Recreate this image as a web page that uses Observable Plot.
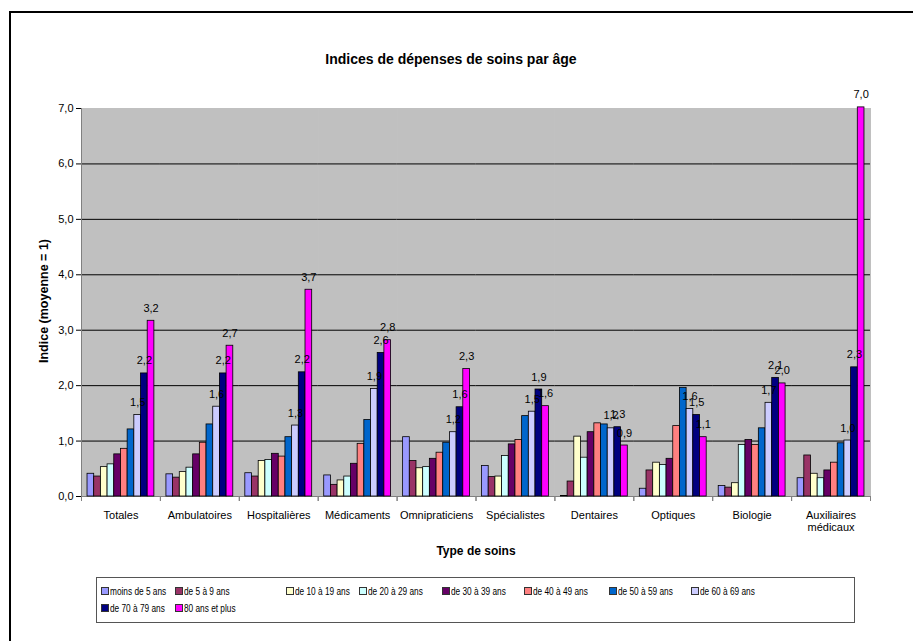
<!DOCTYPE html>
<html>
<head>
<meta charset="utf-8">
<script src="https://cdn.jsdelivr.net/npm/d3@7"></script>
<script src="https://cdn.jsdelivr.net/npm/@observablehq/plot@0.6"></script>
<style>
  html, body { margin: 0; padding: 0; background: #fff; }
  #wrap { position: relative; width: 913px; height: 641px; overflow: hidden; font-family: "Liberation Sans", Arial, sans-serif; }
  #wrap svg { position: absolute; left: 0; top: 0; }
  .abs { position: absolute; white-space: nowrap; color: #000; }
  #frameTop { position: absolute; left: 9px; top: 11px; width: 904px; height: 2px; background: #000; }
  #frameLeft { position: absolute; left: 9px; top: 11px; width: 2px; height: 630px; background: #000; }
  #title { left: 0; width: 902px; top: 51px; text-align: center; font-weight: bold; font-size: 14px; }
  #ytitle { left: 44px; top: 301px; font-weight: bold; font-size: 12.5px; transform: translate(-50%, -50%) rotate(-90deg); }
  #xtitle { left: 476px; top: 551px; font-weight: bold; font-size: 12px; transform: translate(-50%, -50%); }
  #legend { position: absolute; left: 96px; top: 577px; width: 759px; height: 46px; border: 1px solid #555; box-sizing: border-box; }
  .li { position: absolute; height: 12px; width: 90px; font-size: 11.5px; line-height: 12px; white-space: nowrap; }
  .sw { position: absolute; left: 0; top: 2px; width: 6px; height: 6px; border: 1px solid #333; }
  .lt { position: absolute; left: 9px; top: 0; white-space: nowrap; transform: scaleX(0.72); transform-origin: 0 50%; }
</style>
</head>
<body>
<div id="wrap"></div>
<script>
// Categories (types of care)
const categories = ["Totales", "Ambulatoires", "Hospitalières", "Médicaments", "Omnipraticiens",
  "Spécialistes", "Dentaires", "Optiques", "Biologie", "Auxiliaires médicaux"];

// Age groups (series)
const ages = ["moins de 5 ans", "de 5 à 9 ans", "de 10 à 19 ans", "de 20 à 29 ans", "de 30 à 39 ans",
  "de 40 à 49 ans", "de 50 à 59 ans", "de 60 à 69 ans", "de 70 à 79 ans", "80 ans et plus"];

// Series values, one per age group, in category order
const moins5  = [0.41, 0.40, 0.42, 0.38, 1.07, 0.55, 0.01, 0.14, 0.19, 0.33];
const de5a9   = [0.36, 0.34, 0.36, 0.21, 0.64, 0.35, 0.27, 0.47, 0.16, 0.74];
const de10a19 = [0.53, 0.44, 0.64, 0.29, 0.51, 0.36, 1.08, 0.61, 0.24, 0.41];
const de20a29 = [0.58, 0.52, 0.66, 0.36, 0.53, 0.73, 0.70, 0.57, 0.93, 0.33];
const de30a39 = [0.76, 0.76, 0.77, 0.59, 0.68, 0.94, 1.16, 0.68, 1.02, 0.47];
const de40a49 = [0.86, 0.97, 0.72, 0.95, 0.79, 1.02, 1.32, 1.27, 0.93, 0.61];
const de50a59 = [1.21, 1.30, 1.07, 1.38, 0.97, 1.45, 1.30, 1.96, 1.23, 0.96];
const de60a69 = [1.47, 1.62, 1.28, 1.94, 1.16, 1.53, 1.23, 1.58, 1.69, 1.01];
const de70a79 = [2.22, 2.22, 2.24, 2.59, 1.61, 1.93, 1.25, 1.47, 2.14, 2.33];
const plus80  = [3.17, 2.72, 3.73, 2.82, 2.30, 1.63, 0.92, 1.07, 2.04, 7.02];

// Age groups whose bars carry a value label
const labelledAges = ["de 60 à 69 ans", "de 70 à 79 ans", "80 ans et plus"];

// Y axis tick values
const yTicks = [0, 1, 2, 3, 4, 5, 6, 7];

// Colours (Excel palette)
const colors = ["#9999FF", "#993366", "#FFFFCC", "#CCFFFF", "#660066",
  "#FF8080", "#0066CC", "#CCCCFF", "#000080", "#FF00FF"];

const series = [moins5, de5a9, de10a19, de20a29, de30a39, de40a49, de50a59, de60a69, de70a79, plus80];
const data = categories.flatMap((c, i) => ages.map((a, j) => ({cat: c, age: a, value: series[j][i]})));
const fmt = v => v.toFixed(1).replace(".", ",");

const halfStep = (913 - 81 - 43) / categories.length / 2;

const chart = Plot.plot({
  width: 913,
  height: 641,
  marginLeft: 81,
  marginRight: 43,
  marginTop: 108,
  marginBottom: 145,
  style: {fontFamily: "'Liberation Sans', Arial, sans-serif", fontSize: "11px", color: "#000", background: "transparent"},
  fx: {domain: categories, padding: 0, round: false, axis: null, label: null},
  x: {domain: ages, paddingInner: 0, paddingOuter: 0.9, round: false, axis: null},
  y: {domain: [0, 7], axis: null, label: null},
  color: {domain: ages, range: colors},
  marks: [
    Plot.frame({fill: "#c0c0c0", stroke: "#c0c0c0"}),
    Plot.gridY({ticks: yTicks.filter(t => t > 0 && t < 7), stroke: "#000", strokeOpacity: 1}),
    Plot.frame({facet: "super", anchor: "left", stroke: "#808080"}),
    Plot.ruleY([0], {stroke: "#808080"}),
    Plot.axisY({ticks: yTicks, tickFormat: fmt, tickSize: 5, tickPadding: 3, stroke: "#000", fill: "#000"}),
    Plot.barY(data, {fx: "cat", x: "age", y: "value", fill: "age", stroke: "#000", strokeWidth: 0.8}),
    Plot.text(data.filter(d => labelledAges.includes(d.age)), {
      fx: "cat", x: "age", y: "value", text: d => fmt(d.value),
      lineAnchor: "bottom", dy: -9, fill: "#000"
    }),
    Plot.axisFx({anchor: "bottom", tickSize: 0, tickPadding: 14, lineHeight: 1.1,
      tickFormat: d => d.replace(" ", "\n"), fill: "#000"}),
    Plot.axisFx({anchor: "bottom", tickSize: 5, fill: "none", stroke: "#808080", dx: -halfStep}),
    Plot.axisFx({anchor: "bottom", tickSize: 5, fill: "none", stroke: "#808080", dx: halfStep})
  ]
});

const wrap = document.getElementById("wrap");
wrap.appendChild(chart);

function addDiv(id, cls, text) {
  const d = document.createElement("div");
  if (id) d.id = id;
  if (cls) d.className = cls;
  if (text != null) d.textContent = text;
  wrap.appendChild(d);
  return d;
}
addDiv("frameTop");
addDiv("frameLeft");
addDiv("title", "abs", "Indices de dépenses de soins par âge");
addDiv("ytitle", "abs", "Indice (moyenne = 1)");
addDiv("xtitle", "abs", "Type de soins");

// Legend layout (pixel offsets inside the legend box)
const legendX = [4, 78, 189, 262, 345, 427, 512, 594, 4, 78];
const legendRow = [0, 0, 0, 0, 0, 0, 0, 0, 1, 1];
const legend = addDiv("legend");
ages.forEach((a, j) => {
  const item = document.createElement("div");
  item.className = "li";
  item.style.left = legendX[j] + "px";
  item.style.top = (7 + legendRow[j] * 17) + "px";
  const sw = document.createElement("div");
  sw.className = "sw";
  sw.style.background = colors[j];
  const t = document.createElement("div");
  t.className = "lt";
  t.textContent = a;
  item.appendChild(sw);
  item.appendChild(t);
  legend.appendChild(item);
});
</script>
</body>
</html>
